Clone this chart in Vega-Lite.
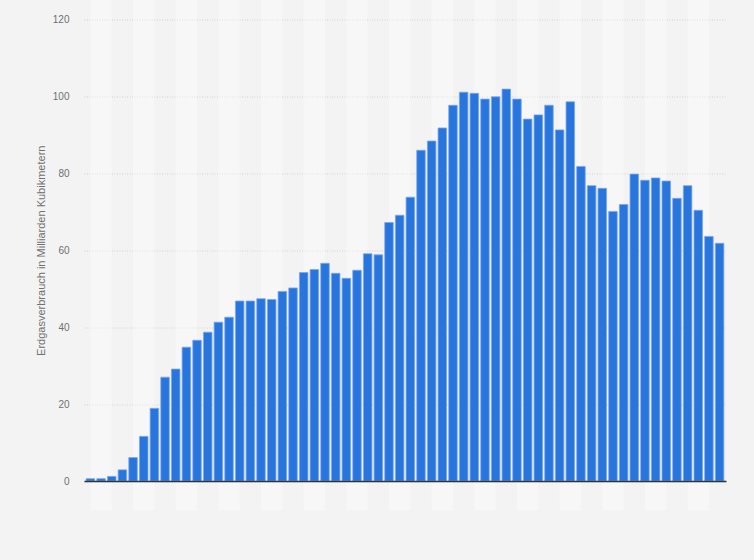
{
  "$schema": "https://vega.github.io/schema/vega-lite/v6.json",
  "autosize": "none",
  "width": 642,
  "height": 461.5,
  "padding": {"left": 84, "top": 19.5, "right": 28, "bottom": 79},
  "background": "#f3f3f3",
  "config": {
    "view": {"stroke": null},
    "font": "Liberation Sans",
    "axis": {"labelFont": "Liberation Sans", "titleFont": "Liberation Sans"}
  },
  "data": {
    "values": [
      {"year": 1965, "value": 0.6}, {"year": 1966, "value": 0.6}, {"year": 1967, "value": 1.2},
      {"year": 1968, "value": 2.9}, {"year": 1969, "value": 6.1}, {"year": 1970, "value": 11.6},
      {"year": 1971, "value": 18.9}, {"year": 1972, "value": 27.0}, {"year": 1973, "value": 29.1},
      {"year": 1974, "value": 34.8}, {"year": 1975, "value": 36.6}, {"year": 1976, "value": 38.7},
      {"year": 1977, "value": 41.3}, {"year": 1978, "value": 42.6}, {"year": 1979, "value": 46.8},
      {"year": 1980, "value": 46.8}, {"year": 1981, "value": 47.4}, {"year": 1982, "value": 47.2},
      {"year": 1983, "value": 49.3}, {"year": 1984, "value": 50.2}, {"year": 1985, "value": 54.2},
      {"year": 1986, "value": 55.0}, {"year": 1987, "value": 56.6}, {"year": 1988, "value": 54.0},
      {"year": 1989, "value": 52.7}, {"year": 1990, "value": 54.8}, {"year": 1991, "value": 59.1},
      {"year": 1992, "value": 58.8}, {"year": 1993, "value": 67.2}, {"year": 1994, "value": 69.1},
      {"year": 1995, "value": 73.8}, {"year": 1996, "value": 86.0}, {"year": 1997, "value": 88.4},
      {"year": 1998, "value": 91.8}, {"year": 1999, "value": 97.7}, {"year": 2000, "value": 101.1},
      {"year": 2001, "value": 100.8}, {"year": 2002, "value": 99.3}, {"year": 2003, "value": 99.9},
      {"year": 2004, "value": 101.9}, {"year": 2005, "value": 99.3}, {"year": 2006, "value": 94.1},
      {"year": 2007, "value": 95.2}, {"year": 2008, "value": 97.7}, {"year": 2009, "value": 91.3},
      {"year": 2010, "value": 98.6}, {"year": 2011, "value": 81.8}, {"year": 2012, "value": 76.8},
      {"year": 2013, "value": 76.1}, {"year": 2014, "value": 70.1}, {"year": 2015, "value": 71.9},
      {"year": 2016, "value": 79.8}, {"year": 2017, "value": 78.2}, {"year": 2018, "value": 78.8},
      {"year": 2019, "value": 78.0}, {"year": 2020, "value": 73.5}, {"year": 2021, "value": 76.8},
      {"year": 2022, "value": 70.4}, {"year": 2023, "value": 63.6}, {"year": 2024, "value": 61.8}
    ]
  },
  "encoding": {
    "x": {
      "field": "year",
      "type": "ordinal",
      "scale": {"paddingInner": 0.2, "paddingOuter": 0.2},
      "axis": {
        "title": null,
        "labels": false,
        "ticks": false,
        "domain": true,
        "domainColor": "#333333",
        "domainWidth": 1.5,
        "grid": false,
        "zindex": 1
      }
    }
  },
  "layer": [
    {
      "transform": [{"filter": "(datum.year - 1966) % 4 == 0"}],
      "mark": {"type": "bar", "width": {"band": 2.5}, "fill": "#ffffff", "opacity": 0.35, "clip": false},
      "encoding": {
        "y": {"datum": 125.2, "type": "quantitative", "scale": {"domain": [0, 120], "nice": false}},
        "y2": {"datum": -7.6}
      }
    },
    {
      "mark": {"type": "bar", "fill": "#2876dd", "stroke": "#7aa8ea", "strokeWidth": 0.8},
      "encoding": {
        "y": {
          "field": "value",
          "type": "quantitative",
          "scale": {"domain": [0, 120], "nice": false},
          "axis": {
            "title": "Erdgasverbrauch in Milliarden Kubikmetern",
            "titleColor": "#707070",
            "titleFontSize": 11,
            "titleFontWeight": "normal",
            "titlePadding": 6,
            "labelColor": "#707070",
            "labelFontSize": 10,
            "labelPadding": 15,
            "values": [0, 20, 40, 60, 80, 100, 120],
            "ticks": false,
            "domain": false,
            "grid": true,
            "gridColor": "#d2d2d2",
            "gridDash": [1, 1.5],
            "gridWidth": 1
          }
        }
      }
    }
  ]
}
